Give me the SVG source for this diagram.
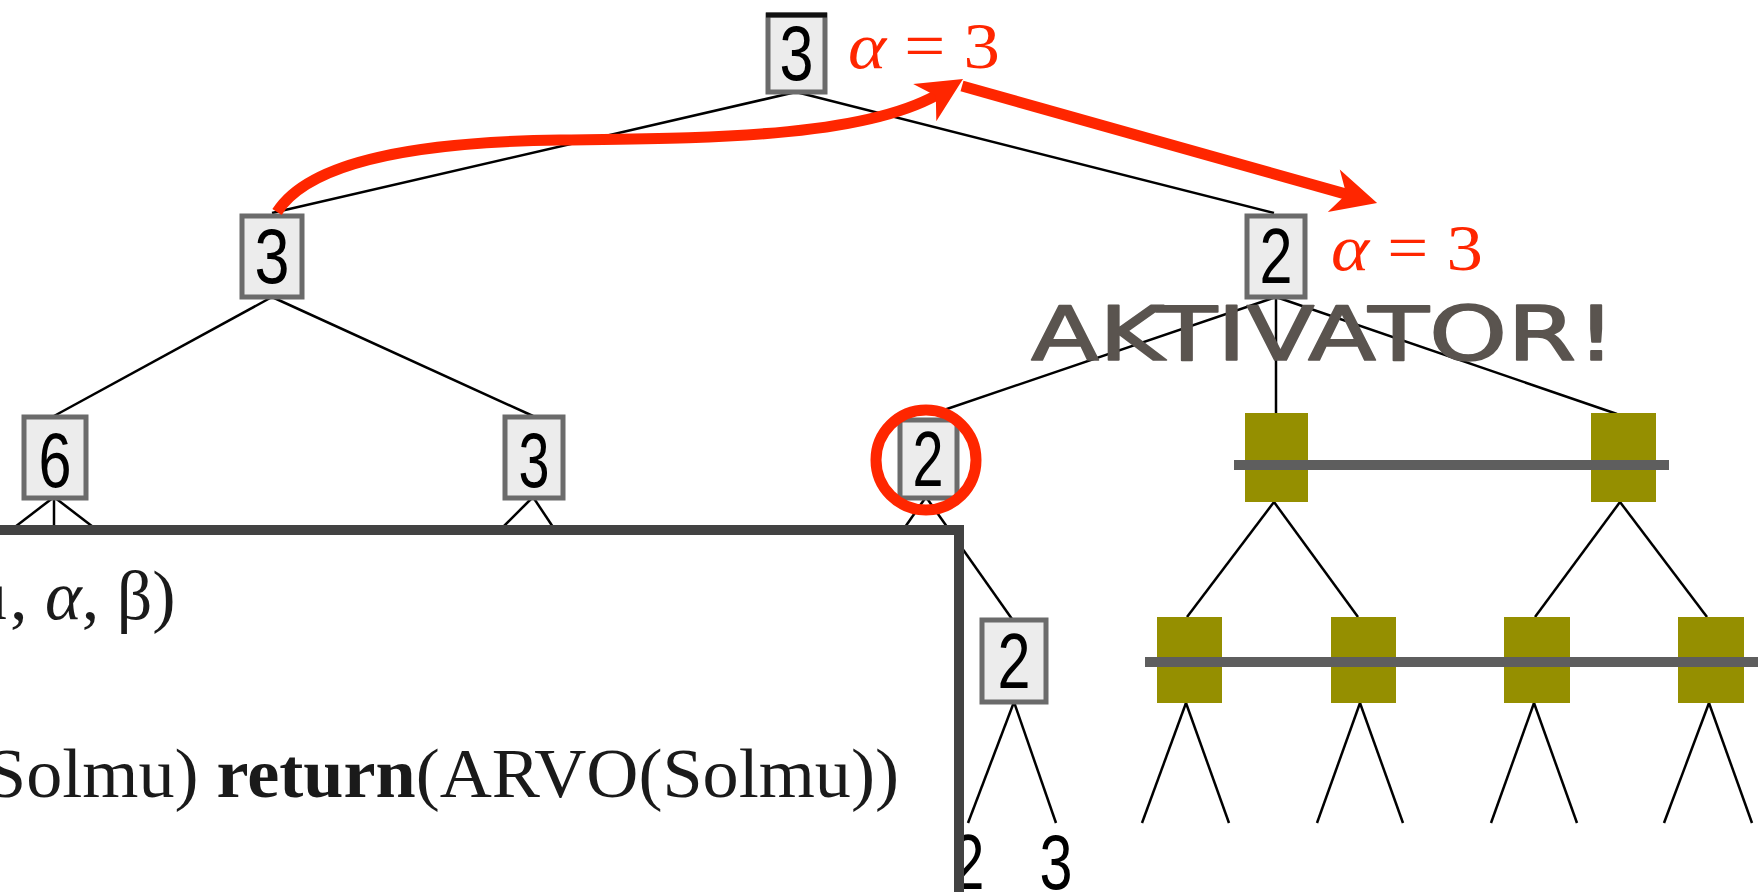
<svg xmlns="http://www.w3.org/2000/svg" width="1758" height="892" viewBox="0 0 1758 892">
  <style>
    .edge { stroke: #000; stroke-width: 2.5; fill: none; }
    .box { fill: #ececec; stroke: #6b6b6b; stroke-width: 5; }
    .digit { font-family: "Liberation Sans", Arial, sans-serif; font-size: 78px; fill: #000; text-anchor: middle; }
    .olive { fill: #958f00; }
    .bar { fill: #5e5e5e; }
    .alpha { font-family: "Liberation Serif", "Times New Roman", serif; font-size: 66px; fill: #ff2600; }
    .code { font-family: "Liberation Serif", "Times New Roman", serif; font-size: 70px; fill: #1a1a1a; }
    .red { stroke: #ff2600; stroke-width: 11; fill: none; }
    .note { font-family: "DejaVu Sans", "Liberation Sans", sans-serif; font-size: 74px; fill: #5a544f; stroke: #5a544f; stroke-width: 1.6; stroke-linejoin: round; }
  </style>
  <defs>
    <marker id="ah" markerUnits="userSpaceOnUse" markerWidth="60" markerHeight="60" viewBox="-20 -30 60 60" refX="8" refY="0" orient="auto">
      <path d="M32,0 L-13,-22 L0,0 L-13,22 Z" fill="#ff2600"/>
    </marker>
  </defs>

  <rect x="0" y="0" width="1758" height="892" fill="#fff"/>

  <g id="connectors">
    <line class="edge" x1="796" y1="92" x2="272" y2="213"/>
    <line class="edge" x1="796" y1="92" x2="1274" y2="213"/>
    <line class="edge" x1="272" y1="297" x2="54" y2="416"/>
    <line class="edge" x1="272" y1="297" x2="533" y2="416"/>
    <line class="edge" x1="1276" y1="297" x2="941" y2="411"/>
    <line class="edge" x1="1276" y1="297" x2="1276" y2="414"/>
    <line class="edge" x1="1276" y1="297" x2="1617" y2="414"/>
    <line class="edge" x1="54" y1="497" x2="11" y2="530"/>
    <line class="edge" x1="54" y1="497" x2="54" y2="530"/>
    <line class="edge" x1="54" y1="497" x2="97" y2="530"/>
    <line class="edge" x1="533" y1="497" x2="500" y2="530"/>
    <line class="edge" x1="533" y1="497" x2="555" y2="530"/>
    <line class="edge" x1="926" y1="497" x2="903" y2="530"/>
    <line class="edge" x1="926" y1="497" x2="1012" y2="619"/>
    <line class="edge" x1="1014" y1="702" x2="968" y2="823"/>
    <line class="edge" x1="1014" y1="702" x2="1056" y2="823"/>
    <line class="edge" x1="1274" y1="502" x2="1187" y2="617"/>
    <line class="edge" x1="1274" y1="502" x2="1358" y2="617"/>
    <line class="edge" x1="1620" y1="502" x2="1535" y2="617"/>
    <line class="edge" x1="1620" y1="502" x2="1707" y2="617"/>
    <line class="edge" x1="1186" y1="703" x2="1142" y2="823"/>
    <line class="edge" x1="1186" y1="703" x2="1229" y2="823"/>
    <line class="edge" x1="1360" y1="703" x2="1317" y2="823"/>
    <line class="edge" x1="1360" y1="703" x2="1403" y2="823"/>
    <line class="edge" x1="1534" y1="703" x2="1491" y2="823"/>
    <line class="edge" x1="1534" y1="703" x2="1577" y2="823"/>
    <line class="edge" x1="1709" y1="703" x2="1664" y2="823"/>
    <line class="edge" x1="1709" y1="703" x2="1752" y2="823"/>
  </g>

  <g id="node-root">
    <rect class="box" x="768" y="15" width="57" height="77" fill="#f7f7f7"/>
    <line x1="766" y1="15" x2="827" y2="15" stroke="#111" stroke-width="5"/>
    <text class="digit" x="796.5" y="80" textLength="34" lengthAdjust="spacingAndGlyphs">3</text>
  </g>
  <g id="alpha-root"><text class="alpha" x="848" y="68" textLength="152" lengthAdjust="spacingAndGlyphs"><tspan font-style="italic">α</tspan> = 3</text></g>

  <g id="node-l2-left">
    <rect class="box" x="242" y="216" width="60" height="81"/>
    <text class="digit" x="272" y="283" textLength="35" lengthAdjust="spacingAndGlyphs">3</text>
  </g>
  <g id="node-l2-right">
    <rect class="box" x="1247" y="216" width="58" height="81"/>
    <text class="digit" x="1276" y="283" textLength="33" lengthAdjust="spacingAndGlyphs">2</text>
  </g>
  <g id="alpha-right"><text class="alpha" x="1331" y="270" textLength="152" lengthAdjust="spacingAndGlyphs"><tspan font-style="italic">α</tspan> = 3</text></g>

  <g id="node-l3-6">
    <rect class="box" x="24" y="417" width="62" height="81" fill="#fafafa"/>
    <text class="digit" x="55" y="487" textLength="33" lengthAdjust="spacingAndGlyphs">6</text>
  </g>
  <g id="node-l3-3">
    <rect class="box" x="505" y="417" width="58" height="81" fill="#fafafa"/>
    <text class="digit" x="534" y="487" textLength="31" lengthAdjust="spacingAndGlyphs">3</text>
  </g>
  <g id="node-l3-2">
    <rect class="box" x="900" y="420" width="57" height="78" fill="#fafafa"/>
    <text class="digit" x="928" y="486" textLength="31" lengthAdjust="spacingAndGlyphs">2</text>
  </g>
  <g id="node-l4-2">
    <rect class="box" x="982" y="620" width="64" height="82"/>
    <text class="digit" x="1014" y="688" textLength="33" lengthAdjust="spacingAndGlyphs">2</text>
  </g>

  <g id="leaves">
    <text class="digit" x="968" y="889" textLength="33" lengthAdjust="spacingAndGlyphs">2</text>
    <text class="digit" x="1056" y="889" textLength="33" lengthAdjust="spacingAndGlyphs">3</text>
  </g>

  <g id="pruned-l3">
    <rect class="olive" x="1245" y="413" width="63" height="89"/>
    <rect class="olive" x="1591" y="413" width="65" height="89"/>
    <rect class="bar" x="1234" y="460" width="435" height="10"/>
  </g>
  <g id="pruned-l4">
    <rect class="olive" x="1157" y="617" width="65" height="86"/>
    <rect class="olive" x="1331" y="617" width="65" height="86"/>
    <rect class="olive" x="1504" y="617" width="66" height="86"/>
    <rect class="olive" x="1678" y="617" width="66" height="86"/>
    <rect class="bar" x="1145" y="657" width="613" height="10"/>
  </g>

  <g id="code-box">
    <rect x="-20" y="530" width="979" height="400" fill="#fff" stroke="#424242" stroke-width="10"/>
    <text class="code" y="619"><tspan x="-28">u</tspan><tspan x="10">, <tspan font-style="italic">α</tspan>, β)</tspan></text>
    <text class="code" x="-14" y="797" textLength="913" lengthAdjust="spacingAndGlyphs">Solmu) <tspan font-weight="bold">return</tspan>(ARVO(Solmu))</text>
  </g>

  <g id="highlight">
    <circle cx="926" cy="460" r="50" class="red"/>
  </g>

  <g id="note"><text class="note" x="1031" y="360" textLength="585" lengthAdjust="spacingAndGlyphs">AKTIVATOR!</text></g>

  <g id="red-arrows">
    <path class="red" d="M277,212 C310,160 420,142 560,140 C700,138 866,139 942.6,91.6" marker-end="url(#ah)"/>
    <line class="red" x1="962" y1="86" x2="1354" y2="196.4" marker-end="url(#ah)"/>
  </g>
</svg>
